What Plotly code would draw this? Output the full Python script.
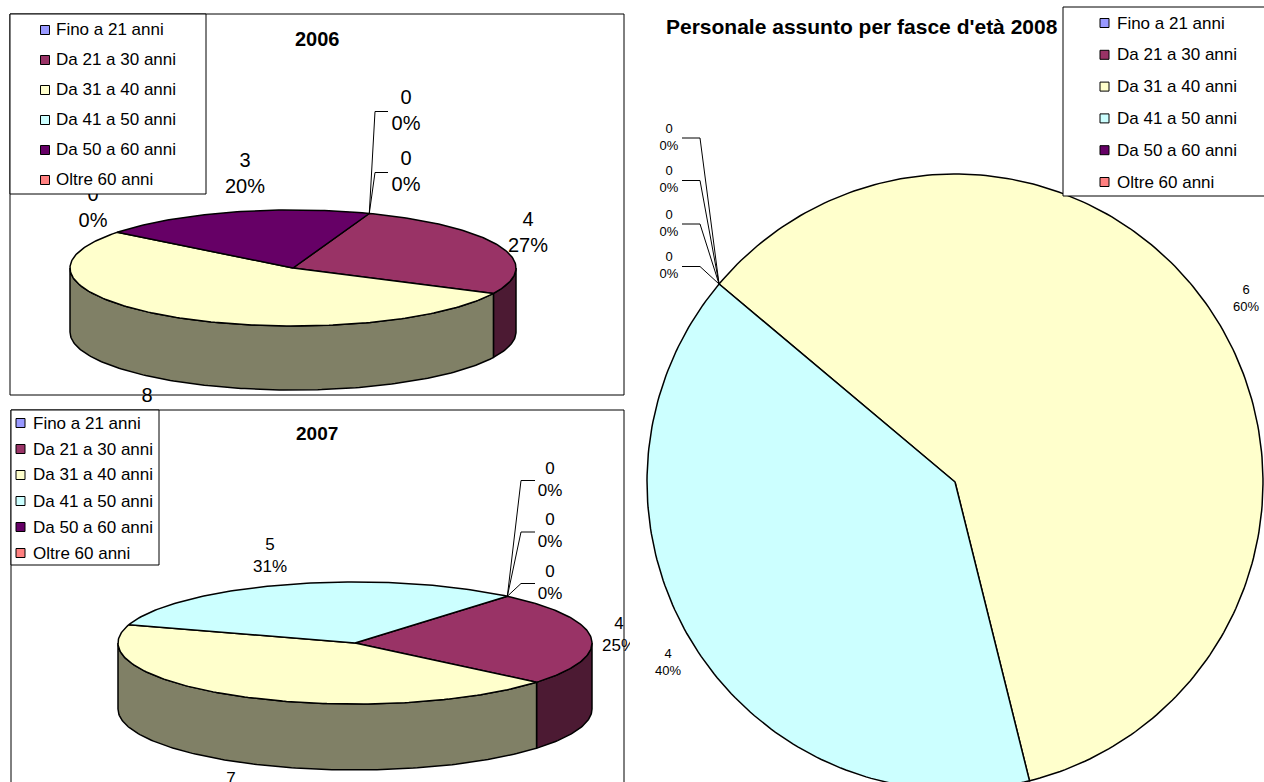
import numpy as np
import plotly.graph_objects as go

# ---- data -------------------------------------------------------------
categories = ["Fino a 21 anni", "Da 21 a 30 anni", "Da 31 a 40 anni",
              "Da 41 a 50 anni", "Da 50 a 60 anni", "Oltre 60 anni"]
values_2006 = [0, 4, 8, 0, 3, 0]
values_2007 = [0, 4, 7, 5, 0, 0]
values_2008 = [0, 0, 6, 4, 0, 0]
title_2006 = "2006"
title_2007 = "2007"
title_2008 = "Personale assunto per fasce d'età 2008"

slice_colors = ["#9999FF", "#993366", "#FFFFCC", "#CCFFFF", "#660066", "#FF8080"]

# ---- page / style -----------------------------------------------------
W, H = 1264, 782
FONT = "Liberation Sans, Arial, sans-serif"
SPLIT_X = 630      # left column / right chart boundary (px)
SPLIT_Y = 407      # 2006 / 2007 boundary (px)
EDGE_W = 1.5       # slice outline width


def shade(hex_color, f=0.5):
    h = hex_color.lstrip("#")
    r, g, b = (int(h[i:i + 2], 16) for i in (0, 2, 4))
    return "rgb({},{},{})".format(round(r * f), round(g * f), round(b * f))


def arc(cx, cy, rx, ry, a0, a1, dy=0.0):
    n = max(2, int(abs(a1 - a0)) + 2)
    t = np.radians(np.linspace(a0, a1, n))
    return cx + rx * np.sin(t), cy - ry * np.cos(t) + dy


def px(x, y):
    return x / W, 1 - y / H


# label placement: category index -> (x, y, leader line?, text position)
charts = [
    dict(values=values_2006, title=title_2006, xa="x", ya="y",
         cx=293, cy=268, rx=223, ry=58, depth=64, start=20, label_size=20,
         labels={0: (406, 111.5, True, "middle center"),
                 1: (528, 233.5, False, "middle center"),
                 2: (147, 387, False, "bottom center"),
                 3: (93, 208.5, False, "middle center"),
                 4: (245, 175, False, "middle center"),
                 5: (406, 172.5, True, "middle center")},
         lead_dx=(-31, -18),
         legend=dict(box=(10, 14, 206, 194), sq_x=45, tx=54, y0=30, dy=30, size=17),
         title_pos=(317, 39, "center", 20),
         frame=(10, 14, 624, 395)),
    dict(values=values_2007, title=title_2007, xa="x2", ya="y2",
         cx=355, cy=643, rx=237, ry=61, depth=66, start=40, label_size=17,
         labels={0: (550, 480.5, True, "middle center"),
                 1: (619, 636, False, "middle center"),
                 2: (231, 771, False, "bottom center"),
                 3: (270, 556.5, False, "middle center"),
                 4: (550, 532, True, "middle center"),
                 5: (550, 583.5, True, "middle center")},
         lead_dx=(-29, -15),
         legend=dict(box=(11, 410, 159, 565), sq_x=20.5, tx=31, y0=423, dy=26, size=17),
         title_pos=(317, 433, "center", 19),
         frame=(11, 410, 624, 800)),
    dict(values=values_2008, title=title_2008, xa="x3", ya="y3",
         cx=955, cy=482, rx=308, ry=308, depth=0, start=-50, label_size=13,
         labels={0: (669, 138, True, "middle center"),
                 1: (669, 180.5, True, "middle center"),
                 2: (1246, 299, False, "middle center"),
                 3: (668, 663, False, "middle center"),
                 4: (669, 224, True, "middle center"),
                 5: (669, 266.5, True, "middle center")},
         lead_dx=(31, 13),
         legend=dict(box=(1063, 7, 1275, 196), sq_x=1104.5, tx=1115, y0=23, dy=31.8, size=17),
         title_pos=(664, 26, "left", 21),
         frame=None),
]

fig = go.Figure()
annotations = []
shapes = []

for ch in charts:
    vals = ch["values"]
    total = sum(vals)
    bounds = np.concatenate([[0.0], np.cumsum([v / total * 360.0 for v in vals])]) + ch["start"]
    cx, cy, rx, ry, depth = ch["cx"], ch["cy"], ch["rx"], ch["ry"], ch["depth"]
    common = dict(xaxis=ch["xa"], yaxis=ch["ya"], hoverinfo="skip", showlegend=False)

    # side wall (front half of the cylinder)
    if depth > 0:
        for i, v in enumerate(vals):
            if v == 0:
                continue
            a0, a1 = bounds[i], bounds[i + 1]
            for base in (90, 450, -270):
                lo, hi = max(a0, base), min(a1, base + 180)
                if hi > lo:
                    xt, yt = arc(cx, cy, rx, ry, lo, hi)
                    xb, yb = arc(cx, cy, rx, ry, hi, lo, depth)
                    fig.add_trace(go.Scatter(
                        x=np.r_[xt, xb, xt[:1]], y=np.r_[yt, yb, yt[:1]],
                        mode="lines", fill="toself", fillcolor=shade(slice_colors[i]),
                        line=dict(color="black", width=EDGE_W), **common))

    # top faces
    for i, v in enumerate(vals):
        if v == 0:
            continue
        xt, yt = arc(cx, cy, rx, ry, bounds[i], bounds[i + 1])
        fig.add_trace(go.Scatter(
            x=np.r_[cx, xt, cx], y=np.r_[cy, yt, cy],
            mode="lines", fill="toself", fillcolor=slice_colors[i],
            line=dict(color="black", width=EDGE_W), **common))

    # leader lines for the labels moved away from their slice
    lx, ly = [], []
    for i, (tx, ty, lead, _) in ch["labels"].items():
        if not lead:
            continue
        sx, sy = arc(cx, cy, rx, ry, bounds[i], bounds[i])
        d1, d2 = ch["lead_dx"]
        lx += [sx[0], tx + d1, tx + d2, None]
        ly += [sy[0], ty, ty, None]
    if lx:
        fig.add_trace(go.Scatter(x=lx, y=ly, mode="lines",
                                 line=dict(color="black", width=1), **common))

    # data labels: value and percentage
    tx_list, ty_list, txt, tpos = [], [], [], []
    for i, (tx, ty, lead, pos) in ch["labels"].items():
        pct = int(vals[i] * 100 / total + 0.5)
        tx_list.append(tx)
        ty_list.append(ty)
        tpos.append(pos)
        txt.append("{}<br>{}%".format(vals[i], pct))
    fig.add_trace(go.Scatter(x=tx_list, y=ty_list, mode="text", text=txt,
                             textposition=tpos, cliponaxis=True,
                             textfont=dict(family=FONT, size=ch["label_size"], color="black"),
                             **common))

    # legend box and colour keys
    lg = ch["legend"]
    bx0, by0, bx1, by1 = lg["box"]
    fig.add_trace(go.Scatter(x=[bx0, bx1, bx1, bx0, bx0], y=[by0, by0, by1, by1, by0],
                             mode="lines", fill="toself", fillcolor="white",
                             line=dict(color="black", width=1), **common))
    rows = [lg["y0"] + k * lg["dy"] for k in range(len(categories))]
    fig.add_trace(go.Scatter(x=[lg["sq_x"]] * len(categories), y=rows, mode="markers",
                             marker=dict(symbol="square", size=9, color=slice_colors,
                                         line=dict(color="black", width=1)),
                             cliponaxis=False, **common))
    for name, ry_ in zip(categories, rows):
        ax_, ay_ = px(lg["tx"], ry_)
        annotations.append(dict(x=ax_, y=ay_, xref="paper", yref="paper", text=name,
                                showarrow=False, xanchor="left", yanchor="middle",
                                font=dict(family=FONT, size=lg["size"], color="black")))

    # title
    tpx, tpy, anchor, tsize = ch["title_pos"]
    ax_, ay_ = px(tpx, tpy)
    annotations.append(dict(x=ax_, y=ay_, xref="paper", yref="paper",
                            text="<b>{}</b>".format(ch["title"]), showarrow=False,
                            xanchor=anchor, yanchor="middle",
                            font=dict(family=FONT, size=tsize, color="black")))

    # chart frame
    if ch["frame"]:
        fx0, fy0, fx1, fy1 = ch["frame"]
        (x0, y1), (x1, y0) = px(fx0, fy0), px(fx1, fy1)
        shapes.append(dict(type="rect", xref="paper", yref="paper", x0=x0, x1=x1, y0=y0, y1=y1,
                           line=dict(color="black", width=1), fillcolor="rgba(0,0,0,0)",
                           layer="below"))

hidden = dict(visible=False, showgrid=False, zeroline=False, fixedrange=True)
fig.update_layout(
    width=W, height=H, autosize=False,
    margin=dict(l=0, r=0, t=0, b=0, pad=0),
    paper_bgcolor="white", plot_bgcolor="rgba(0,0,0,0)",
    xaxis=dict(domain=[0, SPLIT_X / W], range=[0, SPLIT_X], **hidden),
    yaxis=dict(domain=[1 - SPLIT_Y / H, 1], range=[SPLIT_Y, 0], **hidden),
    xaxis2=dict(domain=[0, SPLIT_X / W], range=[0, SPLIT_X], **hidden),
    yaxis2=dict(domain=[0, 1 - SPLIT_Y / H], range=[H, SPLIT_Y], **hidden),
    xaxis3=dict(domain=[SPLIT_X / W, 1], range=[SPLIT_X, W], **hidden),
    yaxis3=dict(domain=[0, 1], range=[H, 0], **hidden),
    annotations=annotations, shapes=shapes,
    showlegend=False,
)

fig.write_html("out.html")
